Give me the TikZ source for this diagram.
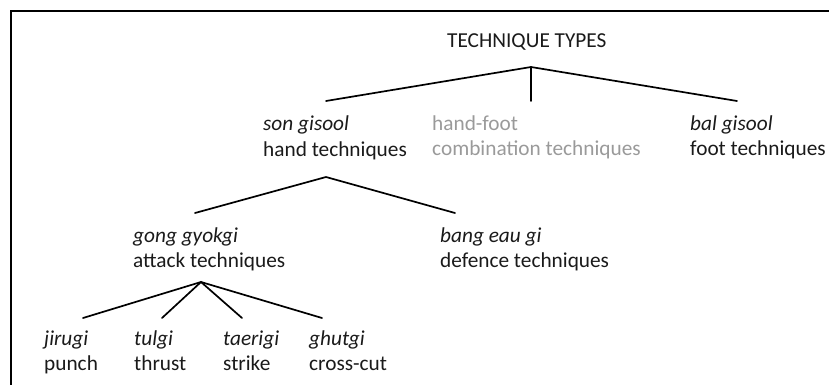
\documentclass[tikz,border=0pt]{standalone}
\usepackage{fontspec}
\setmainfont{Carlito}
\definecolor{ink}{HTML}{1A1A1A}
\definecolor{faded}{HTML}{9A9A9A}
\begin{document}
\begin{tikzpicture}[x=1pt,y=-1pt,
  label text/.style={anchor=base west,inner sep=0pt,align=left,text=ink,
    font=\fontsize{21.3}{25}\selectfont},
  branch/.style={line width=1.7pt,draw=black,line cap=round}]
\useasboundingbox (0,0) rectangle (829,385);
% outer frame, open at the right and bottom
\draw[line width=2pt] (11,386) -- (11,11.5) -- (830,11.5);

% labels (placed at the baseline of their last line)
\node[label text] (root) at (447,48) {TECHNIQUE TYPES};
\node[label text] (hand) at (263,156) {\textit{son gisool}\\hand techniques};
\node[label text,text=faded] (combo) at (432,155) {hand-foot\\combination techniques};
\node[label text] (foot) at (690,155) {\textit{bal gisool}\\foot techniques};
\node[label text] (attack) at (133,267) {\textit{gong gyokgi}\\attack techniques};
\node[label text] (defence) at (440,267) {\textit{bang eau gi}\\defence techniques};
\node[label text] (punch) at (44,370) {\textit{jirugi}\\punch};
\node[label text] (thrust) at (134,370) {\textit{tulgi}\\thrust};
\node[label text] (strike) at (223,370) {\textit{taerigi}\\strike};
\node[label text] (cut) at (309,370) {\textit{ghutgi}\\cross-cut};

% branch points and the tops of the branches
\coordinate (j0) at (531,67);
\coordinate (j0a) at (326,101);
\coordinate (j0b) at (531,101);
\coordinate (j0c) at (737,101);
\coordinate (j1) at (326,177);
\coordinate (j1a) at (195,213);
\coordinate (j1b) at (455,213);
\coordinate (j2) at (201,282);
\coordinate (j2a) at (83,318);
\coordinate (j2b) at (162,318);
\coordinate (j2c) at (242,318);
\coordinate (j2d) at (322,318);

\draw[branch] (j0a) -- (j0) -- (j0c);
\draw[branch] (j0) -- (j0b);
\draw[branch] (j1a) -- (j1) -- (j1b);
\draw[branch] (j2a) -- (j2) -- (j2d);
\draw[branch] (j2b) -- (j2) -- (j2c);
\end{tikzpicture}
\end{document}
